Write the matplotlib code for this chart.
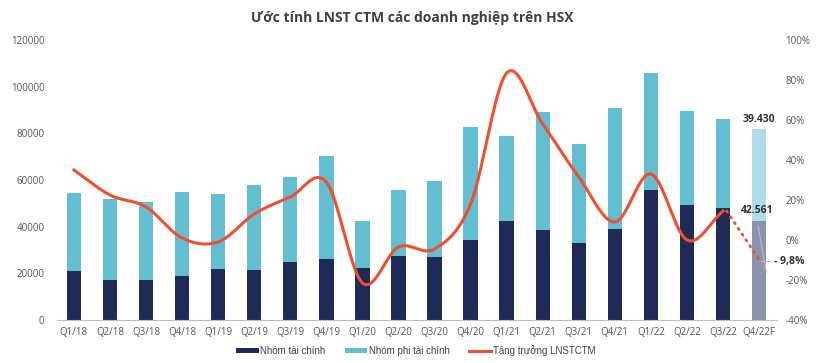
import numpy as np
import matplotlib
matplotlib.use("Agg")
import matplotlib.pyplot as plt

plt.rcParams['font.family'] = ['Open Sans', 'DejaVu Sans']

# data
quarters = ["Q1/18", "Q2/18", "Q3/18", "Q4/18", "Q1/19", "Q2/19", "Q3/19", "Q4/19",
            "Q1/20", "Q2/20", "Q3/20", "Q4/20", "Q1/21", "Q2/21", "Q3/21", "Q4/21",
            "Q1/22", "Q2/22", "Q3/22", "Q4/22F"]
fin = [20900, 17200, 17200, 18900, 21900, 21400, 24700, 26100,
       22400, 27400, 27000, 34300, 42300, 38400, 33000, 39100,
       55700, 49400, 48000, 42561]
nonfin = [33400, 34700, 33300, 35800, 32000, 36600, 36600, 44200,
          20000, 28300, 32600, 48500, 36600, 50600, 42300, 51600,
          50300, 40200, 38300, 39430]
growth = [35, 22.5, 16.5, 1, -1, 13, 21.5, 29,
          -21.5, -3.5, -4.5, 18, 83.5, 58, 31.5, 9,
          33, 0, 14.5]
growth_f = -9.8

navy = "#1F2A56"
cyan = "#63BED2"
red = "#F24E2E"
grey_txt = "#555555"


def smooth(xs, ys, n=20):
    # catmull-rom style smoothing for the display line only
    xs = np.asarray(xs, float)
    ys = np.asarray(ys, float)
    px = np.concatenate([[2 * xs[0] - xs[1]], xs, [2 * xs[-1] - xs[-2]]])
    py = np.concatenate([[2 * ys[0] - ys[1]], ys, [2 * ys[-1] - ys[-2]]])
    out_x, out_y = [], []
    for i in range(1, len(px) - 2):
        t = np.linspace(0, 1, n, endpoint=False)
        for p, out in ((px, out_x), (py, out_y)):
            p0, p1, p2, p3 = p[i - 1], p[i], p[i + 1], p[i + 2]
            out.extend(0.5 * ((2 * p1) + (-p0 + p2) * t
                              + (2 * p0 - 5 * p1 + 4 * p2 - p3) * t ** 2
                              + (-p0 + 3 * p1 - 3 * p2 + p3) * t ** 3))
    out_x.append(xs[-1])
    out_y.append(ys[-1])
    return np.array(out_x), np.array(out_y)


fig = plt.figure(figsize=(8.25, 3.63), dpi=100)
ax = fig.add_axes([0.069, 0.1185, 0.873, 0.7713])
ax2 = ax.twinx()

x = np.arange(len(quarters))
w = 0.4
fin_colors = [navy] * (len(x) - 1) + ["#8E93AD"]
non_colors = [cyan] * (len(x) - 1) + ["#AEDCE8"]
ax.bar(x, fin, w, color=fin_colors, label="Nhóm tài chính", zorder=2)
ax.bar(x, nonfin, w, bottom=fin, color=non_colors, label="Nhóm phi tài chính", zorder=2)

ax.set_ylim(0, 120000)
ax.set_yticks(np.arange(0, 120001, 20000))
ax.set_xlim(-0.47, 19.5)
ax.set_xticks(x)
ax.set_xticklabels(quarters)
for s in ["top", "left", "right"]:
    ax.spines[s].set_visible(False)
    ax2.spines[s].set_visible(False)
ax2.spines["bottom"].set_visible(False)
ax.spines["bottom"].set_color("#BFBFBF")
ax.tick_params(axis="y", length=0, pad=9, labelsize=7, labelcolor=grey_txt)
ax.tick_params(axis="x", length=0, pad=5, labelsize=7, labelcolor=grey_txt)

gx = x[:len(growth)]
sx, sy = smooth(gx, growth)
ax2.plot(sx, sy, color=red, lw=2.2, label="Tăng trưởng LNSTCTM", zorder=3)
ax2.plot([gx[-1] + 0.1, x[-1]], [growth[-1], growth_f], color=red, lw=2,
         linestyle=(0, (0.5, 2.0)), dash_capstyle="round", zorder=3)
ax2.set_ylim(-40, 100)
ax2.set_yticks(np.arange(-40, 101, 20))
ax2.set_yticklabels([f"{v}%" for v in range(-40, 101, 20)])
ax2.tick_params(axis="y", length=0, pad=6, labelsize=7, labelcolor=grey_txt)

# labels on the forecast bar
ax.text(x[-1], fin[-1] + nonfin[-1] + 1500, "39.430", ha="center", va="bottom",
        fontsize=7.5, fontweight="bold", color="#333333")
ax.text(x[-1] - 0.05, fin[-1] + 1800, "42.561", ha="center", va="bottom",
        fontsize=7.5, fontweight="bold", color="#333333")
ax2.plot([x[-1] - 0.03, x[-1] + 0.2], [7, -16], color="#BBBBBB", lw=0.8, zorder=4)
ax2.plot([x[-1] + 0.05, x[-1] + 0.3], [-10.5, -10.5], color="#BBBBBB", lw=0.8, zorder=4)
ax2.text(x[-1] + 0.4, -10.8, "- 9,8%", ha="left", va="center",
         fontsize=7.5, fontweight="bold", color="#333333")

fig.text(0.5, 0.95, "Ước tính LNST CTM các doanh nghiệp trên HSX", ha="center", va="center",
         fontsize=10, fontweight="bold", color="#404040")

h1, l1 = ax.get_legend_handles_labels()
h2, l2 = ax2.get_legend_handles_labels()
fig.legend(h1 + h2, l1 + l2, loc="center", bbox_to_anchor=(0.504, 0.035), ncol=3,
           frameon=False, handlelength=2.3, handleheight=0.5,
           handletextpad=0.15, columnspacing=2.0, labelcolor="#404040",
           prop={"family": "Liberation Sans", "size": 7})

fig.savefig("out.png", dpi=100)
